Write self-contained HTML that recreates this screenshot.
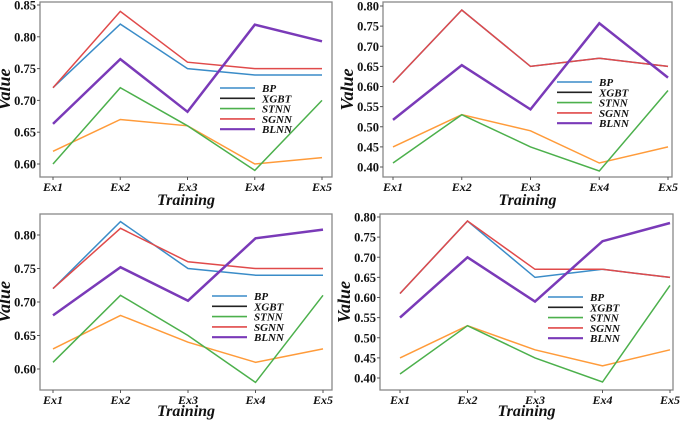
<!DOCTYPE html>
<html><head><meta charset="utf-8"><style>
html,body{margin:0;padding:0;background:#fff;width:685px;height:421px;overflow:hidden}
svg{display:block}
text{font-family:"Liberation Serif",serif;font-weight:bold}
</style></head><body>
<svg id="chart" width="685" height="421" viewBox="0 0 685 421" xmlns="http://www.w3.org/2000/svg"></svg>
<script>
const categories = ["Ex1","Ex2","Ex3","Ex4","Ex5"];
const seriesNames = ["BP","XGBT","STNN","SGNN","BLNN"];
const p1BP   = [0.72,0.82,0.75,0.74,0.74];
const p1XGBT = [0.62,0.67,0.66,0.60,0.61];
const p1STNN = [0.60,0.72,0.66,0.59,0.70];
const p1SGNN = [0.72,0.84,0.76,0.75,0.75];
const p1BLNN = [0.663,0.765,0.682,0.819,0.793];
const p1Ticks = ["0.60","0.65","0.70","0.75","0.80","0.85"];
const p2BP   = [0.61,0.79,0.65,0.67,0.65];
const p2XGBT = [0.45,0.53,0.49,0.41,0.45];
const p2STNN = [0.41,0.53,0.45,0.39,0.59];
const p2SGNN = [0.61,0.79,0.65,0.67,0.65];
const p2BLNN = [0.517,0.653,0.543,0.757,0.622];
const p2Ticks = ["0.40","0.45","0.50","0.55","0.60","0.65","0.70","0.75","0.80"];
const p3BP   = [0.72,0.82,0.75,0.74,0.74];
const p3XGBT = [0.63,0.68,0.64,0.61,0.63];
const p3STNN = [0.61,0.71,0.65,0.58,0.71];
const p3SGNN = [0.72,0.81,0.76,0.75,0.75];
const p3BLNN = [0.68,0.752,0.702,0.795,0.808];
const p3Ticks = ["0.60","0.65","0.70","0.75","0.80"];
const p4BP   = [0.61,0.79,0.65,0.67,0.65];
const p4XGBT = [0.45,0.53,0.47,0.43,0.47];
const p4STNN = [0.41,0.53,0.45,0.39,0.63];
const p4SGNN = [0.61,0.79,0.67,0.67,0.65];
const p4BLNN = [0.55,0.70,0.59,0.74,0.785];
const p4Ticks = ["0.40","0.45","0.50","0.55","0.60","0.65","0.70","0.75","0.80"];

const colors = ["#3a8cc8","#ff9b3a","#4cb04c","#e04a4a","#7a3ab8"];
const legendColors = ["#3a8cc8","#222","#4cb04c","#e04a4a","#7a3ab8"];
const widths = [1.5,1.5,1.5,1.5,2.5];
const NS="http://www.w3.org/2000/svg";
const svg=document.getElementById('chart');
function mk(tag,attrs,parent){const e=document.createElementNS(NS,tag);for(const k in attrs)e.setAttribute(k,attrs[k]);(parent||svg).appendChild(e);return e;}

const panels=[
 {id:"top-left",data:[p1BP,p1XGBT,p1STNN,p1SGNN,p1BLNN],ticks:p1Ticks,fx0:40,fy0:2,fx1:332,fy1:177,x0:53,x1:322,v0:0.60,y0:164,v1:0.85,y1:5,lx:220,ly:88,tOff:28},
 {id:"top-right",data:[p2BP,p2XGBT,p2STNN,p2SGNN,p2BLNN],ticks:p2Ticks,fx0:383,fy0:2,fx1:672,fy1:177,x0:393,x1:668,v0:0.40,y0:167,v1:0.80,y1:6,lx:557,ly:82,tOff:28},
 {id:"bottom-left",data:[p3BP,p3XGBT,p3STNN,p3SGNN,p3BLNN],ticks:p3Ticks,fx0:40,fy0:214,fx1:332,fy1:390,x0:53,x1:323,v0:0.60,y0:369,v1:0.80,y1:235,lx:212,ly:296,tOff:26},
 {id:"bottom-right",data:[p4BP,p4XGBT,p4STNN,p4SGNN,p4BLNN],ticks:p4Ticks,fx0:380,fy0:214,fx1:673,fy1:390,x0:400,x1:670,v0:0.40,y0:378,v1:0.80,y1:217,lx:548,ly:297,tOff:26}
];

panels.forEach(p=>{
  const g=mk('g',{});
  
  
  const xs=i=>p.x0+(p.x1-p.x0)*i/(categories.length-1);
  const ys=v=>p.y0+(v-p.v0)*(p.y1-p.y0)/(p.v1-p.v0);
  const fr=mk('rect',{x:p.fx0,y:p.fy0,width:p.fx1-p.fx0,height:p.fy1-p.fy0,fill:'none',stroke:'#888','stroke-width':1.3},g);
  
  
  p.ticks.forEach(t=>{
    const y=ys(parseFloat(t));
    mk('line',{x1:p.fx0-3,x2:p.fx0,y1:y,y2:y,stroke:'#555'},g);
    const tx=mk('text',{x:p.fx0-4,y:y+4.5,'font-size':12.5,'text-anchor':'end',fill:'#111'},g);
    tx.textContent=t;
    
    
  });
  categories.forEach((c,i)=>{
    const x=xs(i);
    mk('line',{x1:x,x2:x,y1:p.fy1,y2:p.fy1+3,stroke:'#555'},g);
    const tx=mk('text',{x:x,y:p.fy1+14,'font-size':12,'font-style':'italic','text-anchor':'middle',fill:'#111'},g);
    tx.textContent=c;
    
    
  });
  const xt=mk('text',{x:(p.fx0+p.fx1)/2,y:p.fy1+p.tOff,'font-size':16,'font-style':'italic','text-anchor':'middle',fill:'#111'},g);
  xt.textContent='Training';
  
  
  const yc=(p.fy0+p.fy1)/2, yx=p.fx0-30;
  const yt=mk('text',{x:yx,y:yc,'font-size':18,'font-style':'italic','text-anchor':'middle',fill:'#111',transform:`rotate(-90 ${yx} ${yc})`},g);
  yt.textContent='Value';
  
  
  p.data.forEach((vals,s)=>{
    const pts=vals.map((v,i)=>xs(i).toFixed(1)+','+ys(v).toFixed(1)).join(' ');
    const pl=mk('polyline',{points:pts,fill:'none',stroke:colors[s],'stroke-width':widths[s],'stroke-linejoin':'miter'},g);
    
    
  });
  seriesNames.forEach((n,s)=>{
    const y=p.ly+s*10.3;
    const le=mk('g',{},g);
    
    
    mk('line',{x1:p.lx,x2:p.lx+35,y1:y,y2:y,stroke:legendColors[s],'stroke-width':s==4?2.2:1.6},le);
    const t=mk('text',{x:p.lx+42,y:y+4,'font-size':11,'font-style':'italic',fill:'#111'},le);
    t.textContent=n;
  });
});
</script>
</body></html>
